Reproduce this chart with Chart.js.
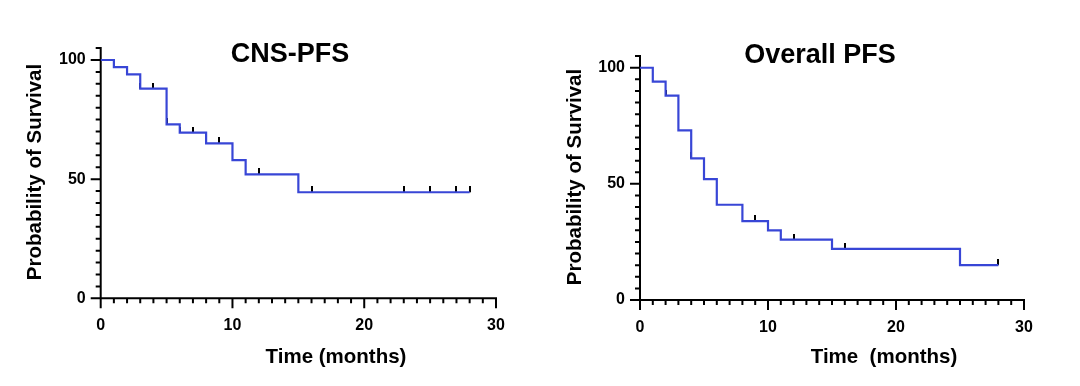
<!DOCTYPE html>
<html>
<head>
<meta charset="utf-8">
<script src="https://cdn.jsdelivr.net/npm/chart.js@4.4.0/dist/chart.umd.min.js"></script>
<style>
  html, body { margin: 0; padding: 0; background: #fff; }
  #wrap { position: relative; width: 1080px; height: 386px; }
  .panel { position: absolute; top: 0; width: 540px; height: 386px; }
</style>
</head>
<body>
<div id="wrap">
  <div class="panel" style="left:0"><canvas id="cnsChart" width="540" height="386"></canvas></div>
  <div class="panel" style="left:540px"><canvas id="overallChart" width="540" height="386"></canvas></div>
</div>
<script>
// CNS-PFS Kaplan-Meier curve (month, % surviving) and censored points
const cnsMonths = [0, 1, 2, 3, 5, 6, 8, 10, 11, 15, 28];
const cnsSurvival = [100, 97, 94, 88, 73, 69.5, 65, 58, 52, 44.5, 44.5];
const cnsCensorMonths = [2, 3, 4, 5, 6, 7, 8, 9, 12, 16, 23, 25, 27, 28];
const cnsCensorSurvival = [94, 88, 88, 73, 69.5, 69.5, 65, 65, 52, 44.5, 44.5, 44.5, 44.5, 44.5];

// Overall PFS
const pfsMonths = [0, 1, 2, 3, 4, 5, 6, 8, 10, 11, 15, 25, 28];
const pfsSurvival = [100, 94, 88, 73, 61, 52, 41, 34, 30, 26, 22, 15, 15];
const pfsCensorMonths = [2, 4, 5, 9, 12, 15, 16, 25, 28];
const pfsCensorSurvival = [88, 61, 52, 34, 26, 22, 22, 15, 15];

// axis ticks
const xMajorTicks = [0, 10, 20, 30];
const xMinorTicks = [0, 1, 2, 3, 4, 5, 6, 7, 8, 9, 10, 11, 12, 13, 14, 15, 16, 17, 18, 19, 20, 21, 22, 23, 24, 25, 26, 27, 28, 29, 30];
const yMajorTicks = [0, 50, 100];
const yMinorTicks = [0, 5, 10, 15, 20, 25, 30, 35, 40, 45, 50, 55, 60, 65, 70, 75, 80, 85, 90, 95, 100, 105];

const lineBlue = 'rgb(56, 70, 214)';
const fontFamily = "'Liberation Sans', Arial, sans-serif";

// small vertical tick used as censor mark (sits on top of the line)
const censorMark = document.createElement('canvas');
censorMark.width = 2;
censorMark.height = 12;
const cm = censorMark.getContext('2d');
cm.fillStyle = '#000';
cm.fillRect(0, 0, 2, 6);

// GraphPad style axes: lines, minor/major ticks and titles
const kmAxes = {
    id: 'kmAxes',
    beforeDatasetsDraw(chart) {
        const ctx = chart.ctx;
        const xs = chart.scales.x, ys = chart.scales.y;
        const x0 = xs.getPixelForValue(0), xEnd = xs.getPixelForValue(30);
        const y0 = ys.getPixelForValue(0), yTop = ys.getPixelForValue(105);
        ctx.save();
        ctx.strokeStyle = '#000';
        ctx.lineWidth = 2;
        ctx.beginPath();
        ctx.moveTo(x0, yTop - 1);
        ctx.lineTo(x0, y0);
        ctx.moveTo(x0 - 1, y0);
        ctx.lineTo(xEnd + 1, y0);
        xMinorTicks.forEach(v => {
            const px = xs.getPixelForValue(v);
            const len = xMajorTicks.includes(v) ? 10 : 5;
            ctx.moveTo(px, y0);
            ctx.lineTo(px, y0 + len);
        });
        yMinorTicks.forEach(v => {
            const py = ys.getPixelForValue(v);
            const len = yMajorTicks.includes(v) ? 10 : 5;
            ctx.moveTo(x0, py);
            ctx.lineTo(x0 - len, py);
        });
        ctx.stroke();
        ctx.restore();
    },
    afterDraw(chart, args, opts) {
        const ctx = chart.ctx;
        ctx.save();
        ctx.fillStyle = '#000';
        ctx.textAlign = 'center';
        ctx.textBaseline = 'middle';
        ctx.font = 'bold 27px ' + fontFamily;
        ctx.fillText(opts.title, opts.titlePos[0], opts.titlePos[1]);
        ctx.font = 'bold 20.5px ' + fontFamily;
        ctx.fillText(opts.xTitle, opts.xTitlePos[0], opts.xTitlePos[1]);
        ctx.translate(opts.yTitlePos[0], opts.yTitlePos[1]);
        ctx.rotate(-Math.PI / 2);
        ctx.fillText(opts.yTitle, 0, 0);
        ctx.restore();
    }
};

function makeChart(id, months, survival, censorMonths, censorSurvival, cfg) {
    return new Chart(document.getElementById(id), {
        type: 'line',
        data: {
            datasets: [{
                data: months.map((m, i) => ({ x: m, y: survival[i] })),
                stepped: true,
                borderColor: lineBlue,
                borderWidth: 2.2,
                pointRadius: 0,
                fill: false
            }, {
                data: censorMonths.map((m, i) => ({ x: m, y: censorSurvival[i] })),
                showLine: false,
                pointStyle: censorMark,
                pointRadius: 3
            }]
        },
        options: {
            responsive: false,
            animation: false,
            layout: { padding: cfg.padding },
            plugins: {
                legend: { display: false },
                tooltip: { enabled: false },
                kmAxes: cfg.decor
            },
            scales: {
                x: {
                    type: 'linear',
                    min: 0,
                    max: 30,
                    afterBuildTicks: s => { s.ticks = xMajorTicks.map(v => ({ value: v })); },
                    afterFit: s => { s.height = 60; },
                    grid: { display: false, drawTicks: false },
                    border: { display: false },
                    ticks: { padding: 18, color: '#000', maxRotation: 0, autoSkip: false,
                             font: { family: fontFamily, weight: 'bold', size: 16 } }
                },
                y: {
                    min: 0,
                    max: 106,
                    afterBuildTicks: s => { s.ticks = yMajorTicks.map(v => ({ value: v })); },
                    afterFit: s => { s.width = cfg.yWidth; },
                    grid: { display: false, drawTicks: false },
                    border: { display: false },
                    ticks: { padding: 15, color: '#000', autoSkip: false,
                             font: { family: fontFamily, weight: 'bold', size: 16 } }
                }
            }
        },
        plugins: [kmAxes]
    });
}

makeChart('cnsChart', cnsMonths, cnsSurvival, cnsCensorMonths, cnsCensorSurvival, {
    padding: { left: 0, right: 44, top: 45.7, bottom: 27.7 },
    yWidth: 100.7,
    decor: {
        title: 'CNS-PFS', titlePos: [290, 55],
        xTitle: 'Time (months)', xTitlePos: [336, 357],
        yTitle: 'Probability of Survival', yTitlePos: [35, 172]
    }
});

makeChart('overallChart', pfsMonths, pfsSurvival, pfsCensorMonths, pfsCensorSurvival, {
    padding: { left: 0, right: 56, top: 53.8, bottom: 26 },
    yWidth: 100,
    decor: {
        title: 'Overall PFS', titlePos: [280, 56],
        xTitle: 'Time  (months)', xTitlePos: [344, 357],
        yTitle: 'Probability of Survival', yTitlePos: [35, 177]
    }
});
</script>
</body>
</html>
